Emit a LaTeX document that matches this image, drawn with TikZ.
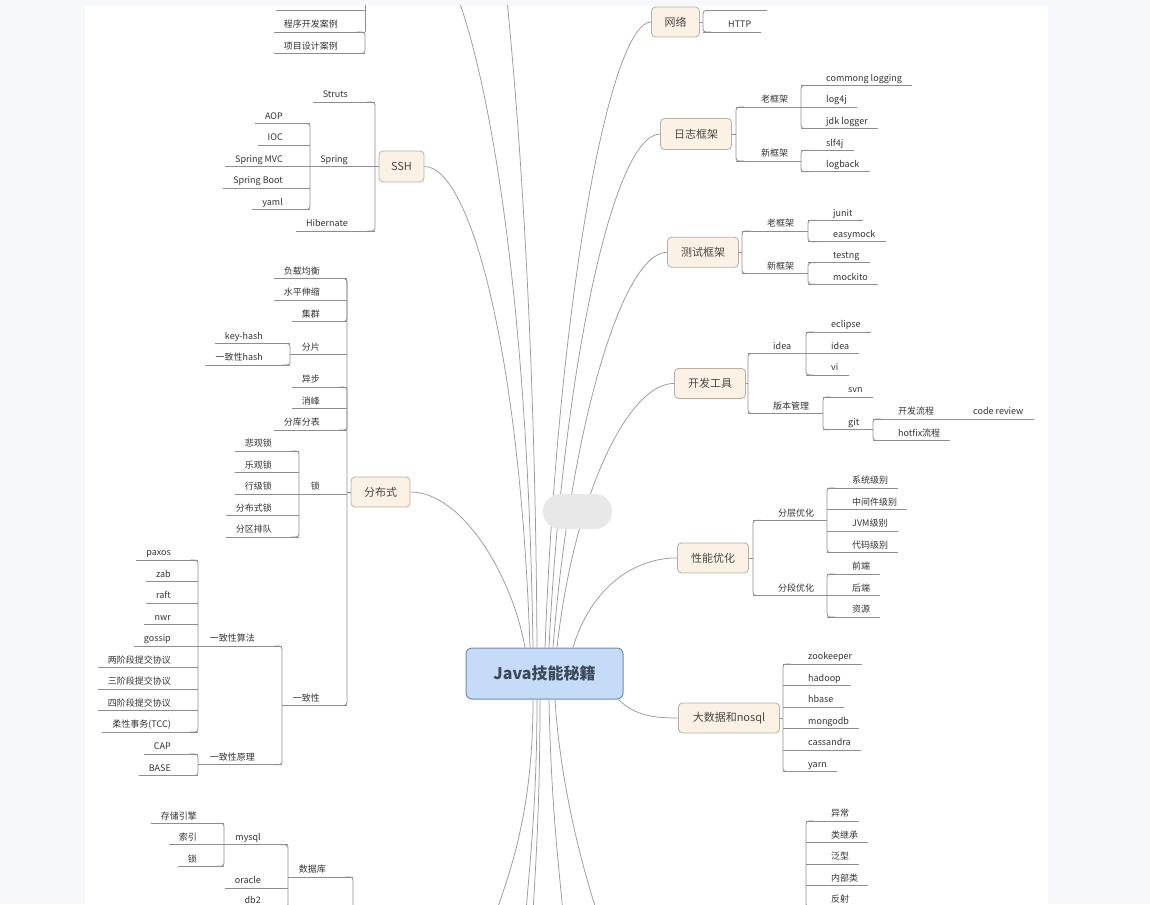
\documentclass[tikz,border=0pt]{standalone}
\usepackage{fontspec}
\setmainfont{Noto Sans CJK SC}
\usepackage{tikz}
\definecolor{canvasbg}{HTML}{F6F8FB}
\definecolor{linkgray}{HTML}{8E8E8E}
\definecolor{curvegray}{HTML}{9A9A9A}
\definecolor{topicfill}{HTML}{FCF1E5}
\definecolor{topicdraw}{HTML}{BAAEA1}
\definecolor{topictext}{HTML}{474747}
\definecolor{rootfill}{HTML}{C6DBF7}
\definecolor{rootdraw}{HTML}{6F8EBB}
\definecolor{roottext}{HTML}{3E4A5A}
\definecolor{leaftext}{HTML}{333333}
\definecolor{pillgray}{HTML}{E8E8E8}

\begin{document}
\begin{tikzpicture}[x=1pt,y=-1pt,font=\fontsize{9}{11}\selectfont,
   link/.style={draw=linkgray,line width=0.8pt},
   curve/.style={draw=curvegray,line width=0.75pt},
   leaf/.style={text=leaftext,inner xsep=10pt,inner ysep=2pt,text depth=2pt,text height=7pt},
   topic/.style={draw=topicdraw,fill=topicfill,rounded corners=4pt,line width=0.8pt,text=topictext,
      font=\fontsize{11}{13}\selectfont,minimum height=30pt,inner xsep=4pt},
   root/.style={draw=rootdraw,fill=rootfill,rounded corners=6pt,line width=1pt,text=roottext,
      font=\fontsize{16}{19}\selectfont\bfseries,minimum width=157pt,minimum height=51pt}]
% spines, sub topics and leaf lists (spine x, underline y)
\newcommand{\spineR}[3]{\draw[link,rounded corners=3pt] (#1+8,#2) -- (#1,#2) -- (#1,#3) -- (#1+8,#3);}
\newcommand{\spineL}[3]{\draw[link,rounded corners=3pt] (#1-8,#2) -- (#1,#2) -- (#1,#3) -- (#1-8,#3);}
\newcommand{\itemR}[5]{\node[leaf,anchor=south west] (#1) at (#2+15,#3) {#4};
  \draw[link] (#2,#3) -- (#5,#3);}
\newcommand{\itemL}[5]{\node[leaf,anchor=south east] (#1) at (#2-17,#3) {#4};
  \draw[link] (#5,#3) -- (#2,#3);}
\newcommand{\leavesR}[4]{\foreach \lbl [count=\k from 0] in {#4}{
     \pgfmathsetmacro{\yy}{#3+21.5*\k}\xdef\ylast{\yy}
     \node[leaf,anchor=south west] (#1\k) at (#2+15,\yy) {\lbl};
     \draw[link] (#2,\yy) -- (#1\k.south east);}
  \ifdim\ylast pt>#3pt\spineR{#2}{#3}{\ylast}\fi}
\newcommand{\leavesL}[4]{\foreach \lbl [count=\k from 0] in {#4}{
     \pgfmathsetmacro{\yy}{#3+21.5*\k}\xdef\ylast{\yy}
     \node[leaf,anchor=south east] (#1\k) at (#2-17,\yy) {\lbl};
     \draw[link] (#1\k.south west) -- (#2,\yy);}
  \ifdim\ylast pt>#3pt\spineL{#2}{#3}{\ylast}\fi}

\useasboundingbox (0,0) rectangle (1150,904);
\fill[canvasbg] (0,0) rectangle (1150,904);
\fill[white] (85,6) rectangle (1048,904);
\begin{scope}
\clip (85,6) rectangle (1048,904);
% root and main topics
\node[root] (java) at (544.5,673.5) {Java技能秘籍};
\node[topic,minimum width=48pt] (net) at (675.5,22) {网络};
\node[topic,minimum width=71pt,minimum height=31pt] (log) at (696,134) {日志框架};
\node[topic,minimum width=71pt] (test) at (703,252.25) {测试框架};
\node[topic,minimum width=71pt] (tool) at (710,383.4) {开发工具};
\node[topic,minimum width=71pt] (perf) at (713,557.9) {性能优化};
\node[topic,minimum width=101pt] (big) at (729,718) {大数据和nosql};
\node[topic,minimum width=45pt,minimum height=31pt] (ssh) at (401.5,166.5) {SSH};
\node[topic,minimum width=59pt] (fbs) at (380.5,492) {分布式};
% branches that leave the view
\coordinate (up1) at (455,-10); \coordinate (up2) at (506,-10);
\coordinate (dn1) at (496,912); \coordinate (dn2) at (526,912); \coordinate (dn3) at (533,912);
\coordinate (dn4) at (563,912); \coordinate (dn5) at (597,912);
\coordinate (cutL) at (276,10.5); \coordinate (cutR) at (767,10.5);
% curves from the root
\draw[curve] ([xshift=-19.5pt]java.north) .. controls (512,575) and (462,492) .. (fbs.east);
\draw[curve] ([xshift=-14.5pt]java.north) .. controls (520,350) and (470,166.5) .. (ssh.east);
\draw[curve] ([xshift=-11.5pt]java.north) .. controls (528,300) and (490,80) .. (up1);
\draw[curve] ([xshift=-7.5pt]java.north) .. controls (535,300) and (515,80) .. (up2);
\draw[curve] ([xshift=0.5pt]java.north) .. controls (558,300) and (610,22) .. (net.west);
\draw[curve] ([xshift=4.5pt]java.north) .. controls (562,380) and (612,134) .. (log.west);
\draw[curve] ([xshift=8.5pt]java.north) .. controls (570,430) and (622,252.25) .. (test.west);
\draw[curve] ([xshift=12.5pt]java.north) .. controls (574,495) and (628,383.4) .. (tool.west);
\draw[curve] ([xshift=28.5pt]java.north) .. controls (590,590) and (632,557.9) .. (perf.west);
\draw[curve] ([xshift=-5pt]java.south east) .. controls (635,716) and (655,718) .. (big.west);
\draw[curve] ([xshift=-11.5pt]java.south) .. controls (533,800) and (515,860) .. (dn1);
\draw[curve] ([xshift=-7.5pt]java.south) .. controls (537,800) and (530,860) .. (dn2);
\draw[curve] ([xshift=-4.5pt]java.south) .. controls (540,800) and (536,860) .. (dn3);
\draw[curve] ([xshift=4.5pt]java.south) .. controls (551,800) and (558,860) .. (dn4);
\draw[curve] ([xshift=10.5pt]java.south) .. controls (560,780) and (580,860) .. (dn5);
\fill[pillgray,rounded corners=17pt] (543,494) rectangle (612,529);
% topic to spine
\draw[link] (net.east) -- (703,22);
\draw[link] (log.east) -- (736,134);
\draw[link] (test.east) -- (742,252.25);
\draw[link] (tool.east) -- (748,383.4);
\draw[link] (perf.east) -- (753,557.9);
\draw[link] (big.east) -- (783,718);
\draw[link] (ssh.west) -- (375,166.5);
\draw[link] (fbs.west) -- (347,492);
% top left, cut by the view
\draw[link] (cutL) -- (365,10.5);
\draw[link] (365,-20) -- (365,32);
\leavesL{case}{365}{32}{程序开发案例,项目设计案例}
% SSH
\spineL{375}{102}{231}
\leavesL{sts}{375}{102}{Struts}
\itemL{spring}{375}{166.5}{Spring}{310}
\leavesL{hib}{375}{231}{Hibernate}
\leavesL{spr}{310}{123.5}{AOP,IOC,Spring MVC,Spring Boot,yaml}
% 分布式
\spineL{347}{278.5}{705.4}
\leavesL{fa}{347}{278.5}{负载均衡,水平伸缩,集群}
\itemL{shard}{347}{354.25}{分片}{290}
\leavesL{sh}{290}{343.5}{key-hash,一致性hash}
\leavesL{fb}{347}{387}{异步,消峰,分库分表}
\itemL{lock}{347}{494}{锁}{299}
\leavesL{lk}{299}{451}{悲观锁,乐观锁,行级锁,分布式锁,分区排队}
\itemL{cons}{347}{705.4}{一致性}{282}
\spineL{282}{646}{764.75}
\itemL{algo}{282}{646}{一致性算法}{198}
\leavesL{al}{198}{560}{paxos,zab,raft,nwr,gossip,两阶段提交协议,三阶段提交协议,四阶段提交协议,柔性事务(TCC)}
\itemL{theory}{282}{764.75}{一致性原理}{198}
\leavesL{th}{198}{754}{CAP,BASE}
% 数据库, cut by the view
\itemL{db}{353}{877}{数据库}{288}
\draw[link,rounded corners=3pt] (345,877) -- (353,877) -- (353,920);
\spineL{288}{844.75}{907.5}
\itemL{mysql}{288}{844.75}{mysql}{224}
\leavesL{my}{224}{823.25}{存储引擎,索引,锁}
\leavesL{ora}{288}{888}{oracle}
\leavesL{dbt}{288}{907.5}{db2}
% 网络
\draw[link,rounded corners=3pt] (cutR) -- (703,10.5) -- (703,32) -- (711,32);
\leavesR{http}{703}{32}{HTTP}
% 日志框架
\spineR{736}{107}{161}
\itemR{oldlog}{736}{107}{老框架}{801}
\leavesR{lo}{801}{85.5}{commong logging,log4j,jdk logger}
\itemR{newlog}{736}{161}{新框架}{801}
\leavesR{ln}{801}{150.25}{slf4j,logback}
% 测试框架
\spineR{742}{231}{273.5}
\itemR{oldtest}{742}{231}{老框架}{808}
\leavesR{to}{808}{220.25}{junit,easymock}
\itemR{newtest}{742}{273.5}{新框架}{808}
\leavesR{tn}{808}{262.75}{testng,mockito}
% 开发工具
\spineR{748}{353.5}{413.4}
\itemR{ide}{748}{353.5}{idea}{806}
\leavesR{id}{806}{332}{eclipse,idea,vi}
\itemR{vcs}{748}{413.4}{版本管理}{823}
\spineR{823}{397}{429.75}
\leavesR{svn}{823}{397}{svn}
\itemR{git}{823}{429.75}{git}{873}
\spineR{873}{419}{440.5}
\itemR{flow}{873}{419}{开发流程}{948}
\leavesR{cr}{948}{419}{code review}
\leavesR{hf}{873}{440.5}{hotfix流程}
% 性能优化
\spineR{753}{520.25}{595.5}
\itemR{layer}{753}{520.25}{分层优化}{827}
\leavesR{ly}{827}{488}{系统级别,中间件级别,JVM级别,代码级别}
\itemR{stage}{753}{595.5}{分段优化}{827}
\leavesR{sg}{827}{574}{前端,后端,资源}
% 大数据和nosql
\leavesR{bd}{783}{664}{zookeeper,hadoop,hbase,mongodb,cassandra,yarn}
% bottom right, cut by the view
\leavesR{jb}{806}{821}{异常,类继承,泛型,内部类,反射}
\end{scope}
\end{tikzpicture}
\end{document}
